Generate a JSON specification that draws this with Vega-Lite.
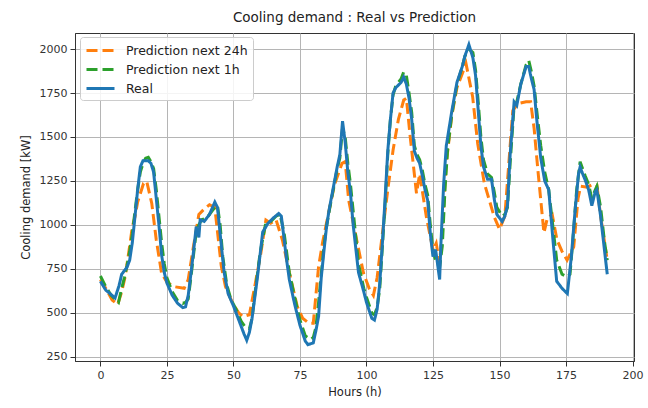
{
  "$schema": "https://vega.github.io/schema/vega-lite/v6.json",
  "autosize": {"type": "none"},
  "padding": {"left": 75, "top": 33, "right": 14, "bottom": 47},
  "width": 559,
  "height": 328,
  "background": "white",
  "title": {"text": "Cooling demand : Real vs Prediction", "fontSize": 13.5, "fontWeight": "normal", "font": "DejaVu Sans", "color": "#222", "offset": 9, "anchor": "middle"},
  "config": {
    "view": {"stroke": "#333", "strokeWidth": 1},
    "axis": {"labelFont": "DejaVu Sans", "titleFont": "DejaVu Sans", "labelFontSize": 11, "titleFontSize": 11.5, "titleFontWeight": "normal", "labelColor": "#333", "titleColor": "#222", "tickColor": "#333", "domainColor": "#333", "gridColor": "#b5b5b5", "gridWidth": 1, "tickSize": 5}
  },
  "datasets": {
    "d24": [
      [0,690],[2,640],[4.4,574],[6.5,548],[8,620],[9.3,706],[11,880],[12,990],[13,1047],[14,1130],[16.2,1236],[17.4,1248],[19.3,1123],[21,915],[23,725],[25,675],[27.5,650],[31.5,640],[33,690],[35,880],[37,1060],[39,1090],[41,1115],[43,1100],[45.4,770],[47,650],[49.7,555],[52,500],[53.5,479],[56,490],[58,650],[60.3,840],[62.2,1028],[64,1010],[66,1030],[68.4,915],[71,730],[74,536],[76,470],[78.4,441],[80,441],[82,763],[83.5,900],[85.2,1028],[88,1230],[90.8,1350],[92,1360],[93.3,1142],[95.8,953],[98.9,725],[101,640],[102.6,600],[104,700],[105.7,915],[108,1200],[110,1426],[112,1600],[114,1710],[115,1720],[116.3,1520],[118.8,1180],[120,1290],[122.5,1047],[125,858],[126.2,896],[127.5,780],[129,1100],[130,1350],[132,1615],[134,1780],[136,1860],[137.4,1918],[139.9,1729],[141.8,1463],[144.3,1236],[146,1150],[148,1047],[150,975],[152,1050],[153.5,1350],[155,1650],[157,1690],[160,1700],[161.7,1700],[163,1550],[164.5,1300],[166.7,955],[168,1040],[169.8,1060],[171.6,915],[173.5,850],[175.4,800],[177.9,876],[179.5,1150],[180.5,1220],[183,1215],[185,1230],[186.6,1227],[188,1050],[190.3,820]
    ],
    "d1": [
      [0,710],[2,650],[4,600],[6.8,560],[8,640],[9,700],[10,770],[11,850],[12,950],[13,1080],[14,1200],[15,1300],[16,1350],[17,1380],[18,1385],[19,1360],[20,1320],[21,1200],[22,1050],[23,900],[24,780],[25,700],[27,620],[29,570],[31,555],[32,560],[33,580],[34,700],[35,830],[36,960],[37,1000],[38,1030],[40,1040],[42,1080],[43,1100],[44,1110],[45,1000],[46,820],[47.5,660],[49,580],[51,520],[53,450],[54.5,420],[56,410],[57,470],[58,600],[60,840],[62,1000],[64,1020],[66,1050],[67.5,1060],[69,960],[71,730],[73,590],[75,460],[77,370],[79,350],[80,360],[81,420],[82,560],[83,720],[84,880],[85,990],[86,1080],[88,1240],[89,1320],[90,1380],[91,1550],[92,1500],[93,1350],[94,1230],[95,1080],[97,780],[99,640],[100,590],[102,500],[103,490],[104,530],[105,640],[106,880],[107,1120],[108,1400],[109,1600],[110,1740],[111,1790],[113,1830],[114,1870],[115,1850],[116,1750],[117,1640],[118,1450],[119,1400],[120,1370],[121,1310],[122,1230],[123,1170],[124,1000],[125,850],[126,800],[127.5,760],[128.5,880],[129.5,1200],[130.5,1430],[132,1620],[134,1800],[136,1900],[137,1960],[138.5,2000],[140,1980],[141,1880],[142,1700],[143,1500],[144,1370],[145.5,1290],[147,1270],[148,1190],[149,1100],[151,1050],[152,1060],[153,1100],[154,1350],[155.5,1680],[156.5,1700],[158,1800],[160,1910],[161,1935],[162,1870],[163,1790],[164,1650],[165.5,1450],[167,1300],[168.5,1200],[170,1000],[171.5,800],[173.5,720],[175.4,705],[176.5,720],[177.5,900],[179,1200],[180.3,1360],[181,1330],[182.2,1280],[183.5,1230],[184.7,1150],[186,1200],[186.6,1220],[188,1100],[189.5,900],[190.5,800]
    ],
    "dr": [
      [0,680],[2,630],[4,605],[5.5,585],[7,655],[8,720],[10,760],[11,800],[12,900],[13,1050],[14,1200],[15,1330],[16,1365],[18,1365],[19,1350],[20,1300],[21,1150],[22,1000],[23,830],[24,730],[25,670],[27,600],[29,555],[31,530],[32,535],[33,600],[34,720],[35,850],[36,990],[37,930],[37.5,1030],[39,1020],[41,1060],[43,1130],[44,1100],[45,950],[46.5,730],[48,610],[50,540],[52,460],[54,380],[55,345],[56,390],[57,470],[59,700],[61,960],[63,1010],[65,1040],[67,1065],[68,1050],[70,800],[71,690],[73,550],[75,430],[77,340],[78,320],[80,330],[81,400],[82,480],[83,700],[84,850],[85,990],[86,1090],[88,1250],[89,1330],[90,1400],[91,1590],[92,1470],[93,1300],[94,1180],[95,1000],[97,730],[99,620],[100,560],[102,470],[103,460],[104,520],[105,670],[106,900],[107,1150],[108,1420],[109,1600],[110,1750],[111,1780],[113,1810],[114,1840],[115,1800],[116,1720],[117,1600],[118,1420],[119,1380],[120,1350],[121,1280],[122,1200],[123,1140],[124,950],[125,820],[126,860],[127.5,690],[128,900],[129,1230],[130,1450],[132,1640],[134,1810],[136,1900],[137,1960],[138.5,2025],[140,1950],[141,1850],[142,1650],[143,1450],[144,1330],[145.5,1260],[147,1260],[148,1150],[149,1060],[151,1020],[152,1050],[153,1110],[154,1400],[155.5,1700],[156.5,1680],[158,1800],[160,1900],[161,1900],[162,1830],[163,1770],[164,1600],[165.5,1380],[167,1250],[168.5,1200],[170,930],[171.5,680],[173.5,640],[175.5,610],[177,820],[178.5,1100],[179.7,1290],[180.3,1330],[181,1300],[182.2,1256],[183.5,1200],[184.7,1110],[186,1190],[186.6,1200],[188,1050],[189.5,850],[190.5,720]
    ]
  },
  "data": {"name": "dr"},
  "layer": [
    {
      "data": {"name": "d24"},
      "transform": [{"calculate": "datum[0]", "as": "h"}, {"calculate": "datum[1]", "as": "kw"}, {"calculate": "'Prediction next 24h'", "as": "series"}],
      "mark": {"type": "line", "strokeWidth": 3},
      "encoding": {
        "x": {"field": "h", "type": "quantitative"},
        "y": {"field": "kw", "type": "quantitative"},
        "color": {"field": "series", "type": "nominal"},
        "strokeDash": {"field": "series", "type": "nominal"}
      }
    },
    {
      "data": {"name": "d1"},
      "transform": [{"calculate": "datum[0]", "as": "h"}, {"calculate": "datum[1]", "as": "kw"}, {"calculate": "'Prediction next 1h'", "as": "series"}],
      "mark": {"type": "line", "strokeWidth": 3},
      "encoding": {
        "x": {"field": "h", "type": "quantitative"},
        "y": {"field": "kw", "type": "quantitative"},
        "color": {"field": "series", "type": "nominal"},
        "strokeDash": {"field": "series", "type": "nominal"}
      }
    },
    {
      "transform": [{"calculate": "datum[0]", "as": "h"}, {"calculate": "datum[1]", "as": "kw"}, {"calculate": "'Real'", "as": "series"}],
      "mark": {"type": "line", "strokeWidth": 3},
      "encoding": {
        "x": {"field": "h", "type": "quantitative", "scale": {"domain": [-9.55, 200.55], "nice": false, "zero": false}, "axis": {"values": [0, 25, 50, 75, 100, 125, 150, 175, 200], "title": "Hours (h)", "titlePadding": 6, "labelPadding": 3, "grid": true}},
        "y": {"field": "kw", "type": "quantitative", "scale": {"domain": [227, 2091], "nice": false, "zero": false}, "axis": {"values": [250, 500, 750, 1000, 1250, 1500, 1750, 2000], "format": "d", "title": "Cooling demand [kW]", "titlePadding": 8, "labelPadding": 3, "grid": true}},
        "color": {"field": "series", "type": "nominal", "scale": {"domain": ["Prediction next 24h", "Prediction next 1h", "Real"], "range": ["#ff7f0e", "#2ca02c", "#1f77b4"]}, "legend": {"title": null, "orient": "none", "legendX": 5, "legendY": 4, "fillColor": "rgba(255,255,255,0.85)", "strokeColor": "#ccc", "cornerRadius": 3, "padding": 5, "labelFont": "DejaVu Sans", "labelFontSize": 12.5, "labelColor": "#222", "symbolType": "M-2,0H2", "symbolSize": 196, "symbolStrokeWidth": 3, "rowPadding": 4, "labelOffset": 17, "symbolOffset": 7}},
        "strokeDash": {"field": "series", "type": "nominal", "scale": {"domain": ["Prediction next 24h", "Prediction next 1h", "Real"], "range": [[11, 5], [11, 5], [1, 0]]}, "legend": {"title": null, "orient": "none", "legendX": 5, "legendY": 4}}
      }
    }
  ]
}
